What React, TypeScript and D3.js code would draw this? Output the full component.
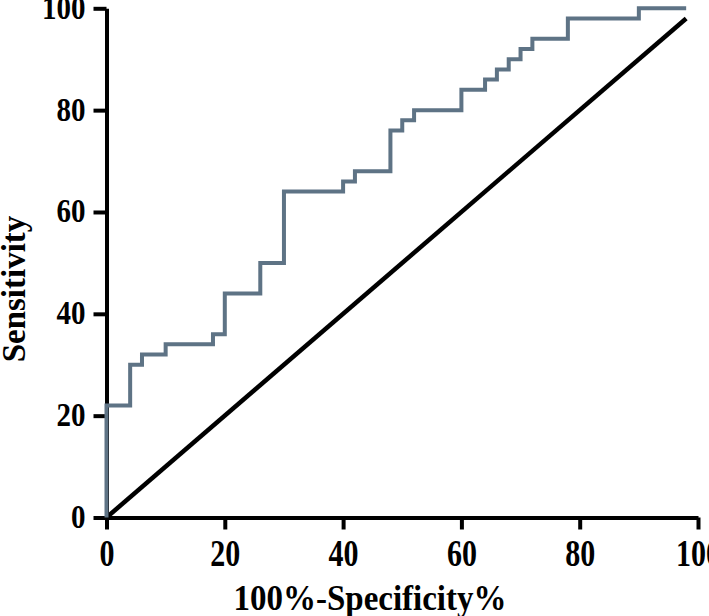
import React, { useEffect, useRef } from 'react';
import * as d3 from 'd3';

// ROC curve corners (100%-Specificity%, Sensitivity%)
const fpr = [0, 0, 4, 6, 10, 18, 20, 26, 30, 40, 42, 48, 50, 52, 60, 64, 66, 68, 70, 72, 78, 90, 98];
const tpr = [0, 22, 30, 32, 34, 36, 44, 50, 64, 66, 68, 76, 78, 80, 84, 86, 88, 90, 92, 94, 98, 100, 100];
// reference diagonal
const diagX = [0, 98];
const diagY = [0, 98];
const xTicks = [0, 20, 40, 60, 80, 100];
const yTicks = [0, 20, 40, 60, 80, 100];

const width = 709;
const height = 616;
const font = '"Liberation Serif", "Times New Roman", serif';

const App = () => {
  const svgRef = useRef<SVGSVGElement>(null);

  useEffect(() => {
    const svg = d3.select(svgRef.current);
    svg.selectAll('*').remove();

    const x = d3.scaleLinear().domain([0, 100]).range([106.5, 698]);
    const y = d3.scaleLinear().domain([0, 100]).range([517.5, 8.3]);

    // y axis
    const yAxis = svg.append('g')
      .attr('transform', `translate(${x(0)},0)`)
      .call(d3.axisLeft(y).tickValues(yTicks).tickSize(13).tickSizeOuter(0).tickPadding(8));
    yAxis.select('.domain').attr('stroke', '#000').attr('stroke-width', 4);
    yAxis.selectAll('.tick line').attr('stroke', '#000').attr('stroke-width', 4);
    yAxis.selectAll('.tick text')
      .attr('font-family', font)
      .attr('font-weight', 'bold')
      .attr('font-size', 29)
      .attr('fill', '#000')
      .attr('dy', 0)
      .attr('transform', 'translate(0,10) scale(1,1.15)');

    // x axis
    const xAxis = svg.append('g')
      .attr('transform', `translate(0,${y(0)})`)
      .call(d3.axisBottom(x).tickValues(xTicks).tickSize(12).tickSizeOuter(0).tickPadding(0));
    xAxis.select('.domain').attr('stroke', '#000').attr('stroke-width', 4);
    xAxis.selectAll('.tick line').attr('stroke', '#000').attr('stroke-width', 4);
    xAxis.selectAll('.tick text')
      .attr('font-family', font)
      .attr('font-weight', 'bold')
      .attr('font-size', 30)
      .attr('fill', '#000')
      .attr('dy', 0)
      .attr('y', 0)
      .attr('transform', 'translate(0,48) scale(1,1.25)');

    // diagonal
    svg.append('path')
      .attr('d', d3.line<number>().x(d => x(d)).y((d, i) => y(diagY[i]))(diagX))
      .attr('fill', 'none')
      .attr('stroke', '#000')
      .attr('stroke-width', 4.5);

    // ROC step curve
    svg.append('path')
      .attr('d', d3.line<number>()
        .x(d => x(d))
        .y((d, i) => y(tpr[i]))
        .curve(d3.curveStepAfter)(fpr))
      .attr('fill', 'none')
      .attr('stroke', '#5e7385')
      .attr('stroke-width', 4);

    // axis titles
    svg.append('text')
      .attr('transform', 'translate(370,610) scale(1,1.1)')
      .attr('text-anchor', 'middle')
      .attr('font-family', font)
      .attr('font-weight', 'bold')
      .attr('font-size', 33)
      .text('100%-Specificity%');

    svg.append('text')
      .attr('transform', 'translate(25,289) rotate(-90)')
      .attr('text-anchor', 'middle')
      .attr('font-family', font)
      .attr('font-weight', 'bold')
      .attr('font-size', 33)
      .text('Sensitivity');
  }, []);

  return (
    <svg
      ref={svgRef}
      width={width}
      height={height}
      style={{ position: 'absolute', left: 0, top: 0, background: '#fff' }}
    />
  );
};

export default App;
